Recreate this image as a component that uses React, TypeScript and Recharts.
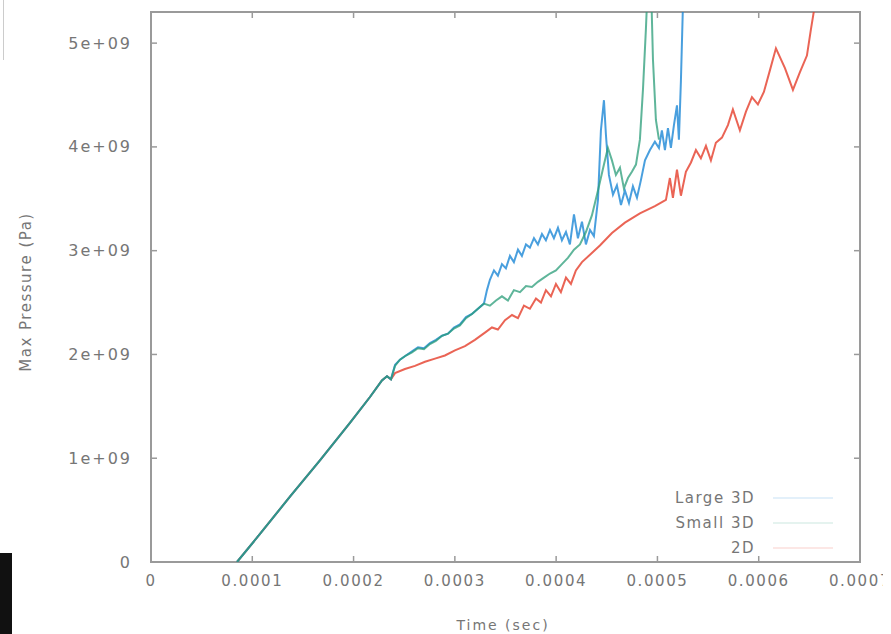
import React from 'react';
import { LineChart, Line, XAxis, YAxis, ReferenceArea, Label } from 'recharts';

// ---- data (time in seconds, max pressure in Pa) ----
const xTicks = [0, 0.0001, 0.0002, 0.0003, 0.0004, 0.0005, 0.0006, 0.0007];
const xTickLabels = ['0', '0.0001', '0.0002', '0.0003', '0.0004', '0.0005', '0.0006', '0.0007'];
const yTicks = [0, 1e9, 2e9, 3e9, 4e9, 5e9];
const yTickLabels = ['0', '1e+09', '2e+09', '3e+09', '4e+09', '5e+09'];
const seriesNames = ['Large 3D', 'Small 3D', '2D'];
const seriesColors = ['#1b87d6', '#2a9c78', '#e53d2b'];

// common linear ramp shared by all runs
const ramp: [number, number][] = [
  [0.0000849, 0],
  [0.0001076, 0.27e9],
  [0.0001372, 0.63e9],
  [0.0001668, 0.98e9],
  [0.0001964, 1.34e9],
  [0.0002162, 1.59e9],
  [0.000228, 1.75e9],
  [0.000233, 1.79e9],
  [0.0002369, 1.76e9],
];

const large3D: [number, number][] = [
  [0.000241, 1.9e9], [0.0002458, 1.95e9], [0.0002517, 1.99e9], [0.0002577, 2.03e9],
  [0.0002636, 2.07e9], [0.0002695, 2.06e9], [0.0002754, 2.11e9], [0.0002813, 2.14e9],
  [0.0002873, 2.18e9], [0.0002932, 2.2e9], [0.0002991, 2.26e9], [0.000305, 2.29e9],
  [0.000311, 2.36e9], [0.0003169, 2.39e9], [0.0003228, 2.44e9], [0.0003287, 2.49e9],
  [0.0003317, 2.62e9], [0.0003346, 2.72e9], [0.0003386, 2.81e9], [0.0003425, 2.76e9],
  [0.0003465, 2.87e9], [0.0003504, 2.83e9], [0.0003544, 2.95e9], [0.0003583, 2.89e9],
  [0.0003623, 3.01e9], [0.0003662, 2.95e9], [0.0003702, 3.06e9], [0.0003741, 3.03e9],
  [0.0003781, 3.12e9], [0.000382, 3.06e9], [0.000386, 3.16e9], [0.0003899, 3.1e9],
  [0.0003939, 3.2e9], [0.0003978, 3.12e9], [0.0004018, 3.22e9], [0.0004057, 3.1e9],
  [0.0004097, 3.18e9], [0.0004136, 3.06e9], [0.0004176, 3.35e9], [0.0004215, 3.12e9],
  [0.0004255, 3.28e9], [0.0004294, 3.06e9], [0.0004334, 3.2e9], [0.0004373, 3.14e9],
  [0.0004413, 3.49e9], [0.0004442, 4.16e9], [0.0004472, 4.45e9], [0.0004492, 4.11e9],
  [0.0004521, 3.73e9], [0.0004561, 3.54e9], [0.00046, 3.63e9], [0.000464, 3.44e9],
  [0.0004679, 3.58e9], [0.0004719, 3.46e9], [0.0004758, 3.62e9], [0.0004798, 3.51e9],
  [0.0004837, 3.68e9], [0.0004877, 3.87e9], [0.0004926, 3.97e9], [0.0004975, 4.05e9],
  [0.0005015, 3.99e9], [0.0005044, 4.16e9], [0.0005074, 3.97e9], [0.0005104, 4.18e9],
  [0.0005133, 3.99e9], [0.0005163, 4.21e9], [0.0005193, 4.4e9], [0.0005212, 4.07e9],
  [0.0005232, 4.64e9], [0.0005252, 5.37e9], [0.0005262, 5.6e9],
];

const small3D: [number, number][] = [
  [0.0002409, 1.89e9], [0.0002458, 1.95e9], [0.0002517, 1.99e9], [0.0002577, 2.02e9],
  [0.0002636, 2.06e9], [0.0002695, 2.05e9], [0.0002754, 2.1e9], [0.0002813, 2.13e9],
  [0.0002873, 2.18e9], [0.0002932, 2.2e9], [0.0002991, 2.25e9], [0.000305, 2.28e9],
  [0.000311, 2.35e9], [0.0003169, 2.39e9], [0.0003228, 2.44e9], [0.0003287, 2.49e9],
  [0.0003346, 2.47e9], [0.0003406, 2.52e9], [0.0003465, 2.56e9], [0.0003524, 2.52e9],
  [0.0003583, 2.62e9], [0.0003643, 2.6e9], [0.0003702, 2.66e9], [0.0003761, 2.65e9],
  [0.000382, 2.7e9], [0.000388, 2.74e9], [0.0003939, 2.78e9], [0.0003998, 2.81e9],
  [0.0004057, 2.87e9], [0.0004116, 2.93e9], [0.0004176, 3.01e9], [0.0004235, 3.06e9],
  [0.0004294, 3.18e9], [0.0004353, 3.34e9], [0.0004413, 3.58e9], [0.0004472, 3.83e9],
  [0.0004511, 3.99e9], [0.0004551, 3.87e9], [0.000459, 3.73e9], [0.000463, 3.8e9],
  [0.0004669, 3.6e9], [0.0004709, 3.7e9], [0.0004748, 3.76e9], [0.0004788, 3.83e9],
  [0.0004827, 4.07e9], [0.0004857, 4.55e9], [0.0004886, 5.13e9], [0.0004906, 5.6e9],
  [0.0004936, 5.6e9], [0.0004956, 4.84e9], [0.0004985, 4.26e9], [0.0005015, 4.07e9],
];

const twoD: [number, number][] = [
  [0.0002409, 1.82e9], [0.0002507, 1.86e9], [0.0002606, 1.89e9], [0.0002705, 1.93e9],
  [0.0002804, 1.96e9], [0.0002902, 1.99e9], [0.0003001, 2.04e9], [0.00031, 2.08e9],
  [0.0003198, 2.14e9], [0.0003297, 2.21e9], [0.0003366, 2.26e9], [0.0003425, 2.24e9],
  [0.0003495, 2.33e9], [0.0003564, 2.38e9], [0.0003623, 2.35e9], [0.0003682, 2.47e9],
  [0.0003741, 2.44e9], [0.0003801, 2.54e9], [0.000385, 2.5e9], [0.0003899, 2.62e9],
  [0.0003949, 2.56e9], [0.0003998, 2.68e9], [0.0004047, 2.6e9], [0.0004097, 2.74e9],
  [0.0004146, 2.68e9], [0.0004195, 2.81e9], [0.0004255, 2.89e9], [0.0004334, 2.96e9],
  [0.0004432, 3.05e9], [0.0004551, 3.17e9], [0.0004679, 3.27e9], [0.0004827, 3.36e9],
  [0.0004975, 3.43e9], [0.0005084, 3.49e9], [0.0005123, 3.7e9], [0.0005153, 3.51e9],
  [0.0005193, 3.78e9], [0.0005232, 3.53e9], [0.0005281, 3.76e9], [0.0005331, 3.85e9],
  [0.000538, 3.97e9], [0.0005429, 3.89e9], [0.0005479, 4.01e9], [0.0005528, 3.87e9],
  [0.0005577, 4.04e9], [0.0005637, 4.09e9], [0.0005696, 4.21e9], [0.0005745, 4.36e9],
  [0.0005814, 4.16e9], [0.0005874, 4.34e9], [0.0005933, 4.48e9], [0.0005992, 4.41e9],
  [0.0006051, 4.53e9], [0.0006111, 4.74e9], [0.000617, 4.95e9], [0.0006259, 4.76e9],
  [0.0006338, 4.55e9], [0.0006407, 4.72e9], [0.0006476, 4.88e9], [0.0006515, 5.13e9],
  [0.0006555, 5.37e9], [0.000657, 5.6e9],
];

const toRows = (pts: [number, number][]) => pts.map(([t, p]) => ({ t, p }));
const largeData = toRows([...ramp, ...large3D]);
const smallData = toRows([...ramp, ...small3D]);
const twoDData = toRows([...ramp, ...twoD]);

// ---- layout ----
const W = 883;
const H = 626;
const M = { top: 4, right: 31, left: 0, bottom: 32 };
const Y_AXIS_W = 143;
const X_AXIS_H = 40;
const PLOT_L = M.left + Y_AXIS_W;
const PLOT_R = W - M.right;
const PLOT_T = M.top;
const PLOT_B = H - M.bottom - X_AXIS_H;
const TEXT = '#767676';
const FRAME = '#9a9a9a';
const FONT = '"DejaVu Sans", sans-serif';

const XTick = (props: any) => {
  const { x, payload } = props;
  const i = xTicks.indexOf(payload.value);
  return (
    <g>
      <line x1={x} x2={x} y1={PLOT_B} y2={PLOT_B - 6} stroke={FRAME} strokeWidth={1.5} />
      <line x1={x} x2={x} y1={PLOT_T} y2={PLOT_T + 6} stroke={FRAME} strokeWidth={1.5} />
      <text x={x} y={PLOT_B + 19} textAnchor="middle" dominantBaseline="central"
        fill={TEXT} fontSize={15} letterSpacing={1.6} fontFamily={FONT}>
        {xTickLabels[i]}
      </text>
    </g>
  );
};

const YTick = (props: any) => {
  const { y, payload } = props;
  const i = yTicks.indexOf(payload.value);
  return (
    <g>
      <line x1={PLOT_L} x2={PLOT_L + 6} y1={y} y2={y} stroke={FRAME} strokeWidth={1.5} />
      <line x1={PLOT_R} x2={PLOT_R - 6} y1={y} y2={y} stroke={FRAME} strokeWidth={1.5} />
      <text x={PLOT_L - 19} y={y} textAnchor="end" dominantBaseline="central"
        fill={TEXT} fontSize={16} letterSpacing={2} fontFamily={FONT}>
        {yTickLabels[i]}
      </text>
    </g>
  );
};

const legendTop = 478;

export default function App() {
  return (
    <div style={{ position: 'relative', width: W, height: H }}>
      <LineChart width={W} height={H} margin={M}>
        <XAxis dataKey="t" type="number" domain={[0, 0.0007]} ticks={xTicks} interval={0}
          allowDataOverflow height={X_AXIS_H} axisLine={false} tickLine={false} tick={<XTick />}>
          <Label content={() => (
            <text x={495} y={617} textAnchor="middle" dominantBaseline="central"
              fill={TEXT} fontSize={14} letterSpacing={2} fontFamily={FONT}>Time (sec)</text>
          )} />
        </XAxis>
        <YAxis dataKey="p" type="number" domain={[0, 5.3e9]} ticks={yTicks} interval={0}
          allowDataOverflow width={Y_AXIS_W} axisLine={false} tickLine={false} tick={<YTick />}>
          <Label content={() => (
            <text x={18} y={284} transform="rotate(-90 18 284)" textAnchor="middle"
              dominantBaseline="central" fill={TEXT} fontSize={15} letterSpacing={1.5}
              fontFamily={FONT}>Max Pressure (Pa)</text>
          )} />
        </YAxis>
        <ReferenceArea x1={0} x2={0.0007} y1={0} y2={5.3e9} fill="none" stroke={FRAME}
          strokeWidth={2} ifOverflow="visible" />
        <Line data={twoDData} dataKey="p" name={seriesNames[2]} stroke={seriesColors[2]}
          strokeWidth={2} strokeOpacity={0.8} dot={false} isAnimationActive={false} />
        <Line data={largeData} dataKey="p" name={seriesNames[0]} stroke={seriesColors[0]}
          strokeWidth={2} strokeOpacity={0.8} dot={false} isAnimationActive={false} />
        <Line data={smallData} dataKey="p" name={seriesNames[1]} stroke={seriesColors[1]}
          strokeWidth={2} strokeOpacity={0.75} dot={false} isAnimationActive={false} />
      </LineChart>
      {seriesNames.map((n, i) => (
        <div key={n} style={{ position: 'absolute', left: 620, top: legendTop + i * 25, width: 210,
          height: 24, display: 'flex', alignItems: 'center' }}>
          <span style={{ width: 127, textAlign: 'right', color: TEXT, fontFamily: FONT,
            fontSize: 15, letterSpacing: 1.5 }}>{n}</span>
          <svg width={83} height={24} style={{ display: 'block' }}>
            <line x1={18} x2={78} y1={12} y2={12} stroke={seriesColors[i]} strokeOpacity={0.12}
              strokeWidth={2} />
          </svg>
        </div>
      ))}
      <div style={{ position: 'fixed', left: 0, top: 553, width: 12, height: 81, background: '#111' }} />
      <div style={{ position: 'fixed', left: 3, top: 0, width: 1, height: 60, background: '#ccc' }} />
    </div>
  );
}
